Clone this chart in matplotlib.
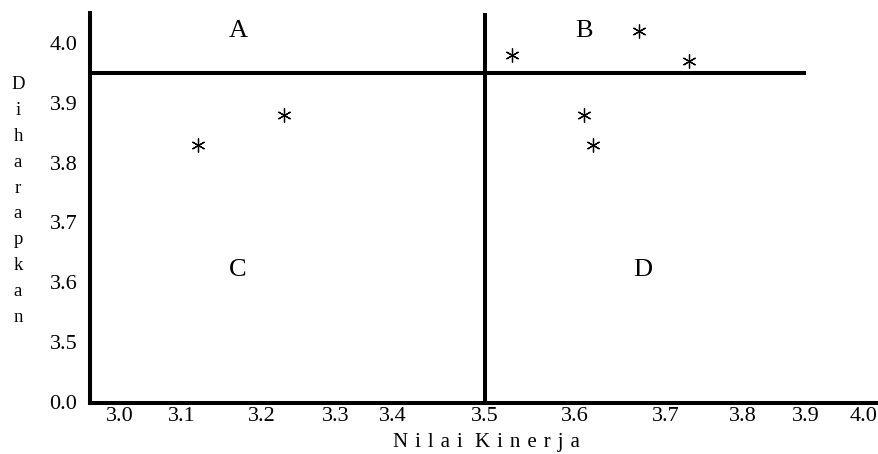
import matplotlib
matplotlib.use("Agg")
import matplotlib.pyplot as plt
import numpy as np

plt.rcParams['font.family'] = ['Liberation Serif', 'DejaVu Serif']

# data
kinerja = [3.12, 3.23, 3.53, 3.61, 3.62, 3.67, 3.73]
harapan = [3.83, 3.88, 3.98, 3.88, 3.83, 4.02, 3.97]
batas_x = 3.5
batas_y = 3.95
xticks = [3.0, 3.1, 3.2, 3.3, 3.4, 3.5, 3.6, 3.7, 3.8, 3.9, 4.0]
yticks = [0.0, 3.5, 3.6, 3.7, 3.8, 3.9, 4.0]
kuadran = ['A', 'B', 'C', 'D']
kuadran_x = [3.17, 3.61, 3.17, 3.675]
kuadran_y = [4.02, 4.02, 3.62, 3.62]

# uneven x spacing of the original drawing (pixel anchors of each tick)
x_anchor = [2.0] + xticks + [5.0]
x_px = [120 - 620] + [120, 182, 262, 336, 393, 485, 575, 666, 743, 806, 864] + [864 + 580]

def fx(v):
    return np.interp(v, x_anchor, x_px)

def fx_inv(p):
    return np.interp(p, x_px, x_anchor)

# broken y axis: 0.0 sits right below 3.5
y_anchor = [-3.5, 0.0, 3.5, 5.0]
y_lin = [3.3, 3.4, 3.5, 5.0]

def fy(v):
    return np.interp(v, y_anchor, y_lin)

def fy_inv(p):
    return np.interp(p, y_lin, y_anchor)

fig = plt.figure(figsize=(8.79, 4.54), dpi=100)
ax = fig.add_axes([90 / 879, 1 - 403 / 454, (879 - 90) / 879, (403 - 13) / 454])
ax.set_xscale('function', functions=(fx, fx_inv))
ax.set_yscale('function', functions=(fy, fy_inv))
ax.set_xlim(2.952, 4.026)
ax.set_ylim(-0.06, 4.05)

ax.axvline(batas_x, color='black', lw=2.9)
ax.hlines(batas_y, 2.952, 3.9, color='black', lw=2.9)

ax.plot(kinerja, harapan, ls='none', marker=(6, 2, 0), ms=10, mew=0.9, color='black')

for lab, x, y in zip(kuadran, kuadran_x, kuadran_y):
    ax.text(x, y, lab, fontsize=19, ha='center', va='center')

ax.set_xticks(xticks)
ax.set_xticklabels(['%.1f' % t for t in xticks])
ax.set_yticks(yticks)
ax.set_yticklabels(['%.1f' % t for t in yticks])
ax.minorticks_off()
ax.tick_params(length=0, labelsize=16)
ax.tick_params(axis='x', pad=3)
ax.tick_params(axis='y', pad=9)

for s in ['top', 'right']:
    ax.spines[s].set_visible(False)
for s in ['left', 'bottom']:
    ax.spines[s].set_linewidth(2.9)

fig.text(18 / 879, 1 - 201 / 454, '\n'.join('Diharapkan'), fontsize=13.5,
         ha='center', va='center', linespacing=1.68)
fig.text(486 / 879, 1 - 442 / 454, ' \u200a'.join('Nilai') + '  \u200a' + ' \u200a'.join('Kinerja'),
         fontsize=15, ha='center', va='center')

fig.savefig('out.png', dpi=100)
